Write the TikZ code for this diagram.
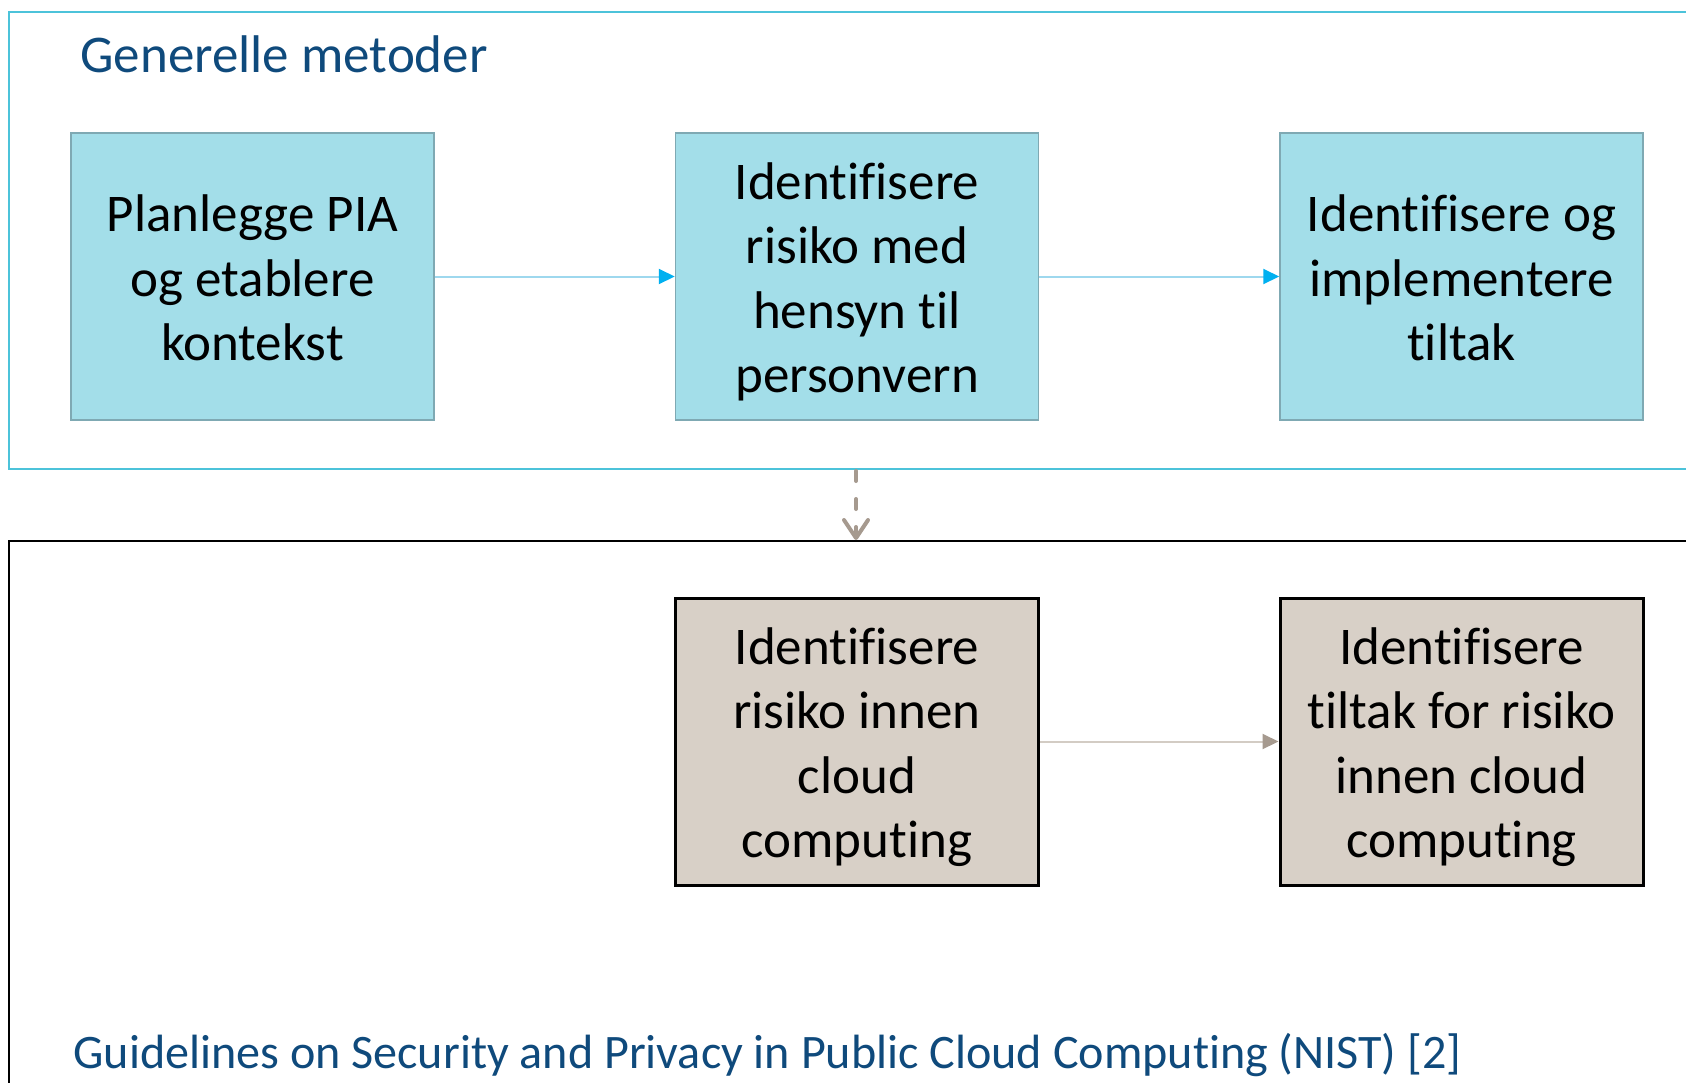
\documentclass[tikz,border=0pt]{standalone}
\usepackage{fontspec}
\setmainfont{Carlito}[Ligatures={NoCommon,NoContextual}]
\usetikzlibrary{arrows.meta}
\definecolor{boxblue}{HTML}{A3DEE9}
\definecolor{boxblueedge}{HTML}{7FA9B3}
\definecolor{framecyan}{HTML}{4CC3DA}
\definecolor{linkblue}{HTML}{9ED8EE}
\definecolor{tipblue}{HTML}{00B0F0}
\definecolor{boxtan}{HTML}{D8D0C7}
\definecolor{linktan}{HTML}{D3CCC4}
\definecolor{tiptan}{HTML}{A69A8F}
\definecolor{titleblue}{HTML}{0F4A7C}
\newcommand{\topstr}{\rule{0pt}{26pt}}
\newcommand{\botstr}{\rule[-6.5pt]{0pt}{6.5pt}}
\tikzset{
  stepbase/.style={minimum width=181.5pt, minimum height=143.5pt, inner sep=0pt, align=center,
    font=\fontsize{26.5}{32.2}\selectfont},
  bluestep/.style={stepbase, fill=boxblue, draw=boxblueedge, line width=0.75pt},
  tanstep/.style={stepbase, fill=boxtan, draw=black, line width=1.5pt},
  bluelink/.style={draw=linkblue, line width=1pt, -{Triangle[length=8pt,width=7.5pt,color=tipblue]}},
  tanlink/.style={draw=linktan, line width=1pt, -{Triangle[length=8pt,width=7.5pt,color=tiptan]}},
  dashlink/.style={draw=tiptan, line width=2pt, line cap=round, dash pattern=on 5pt off 9pt,
    -{Straight Barb[length=9pt,width=12pt,line cap=round,line join=round]}},
  heading/.style={anchor=base west, text=titleblue, inner sep=0pt}
}
\begin{document}
\begin{tikzpicture}[x=0.5pt,y=-0.5pt]
\useasboundingbox (0,0) rectangle (1686,1082);
\fill[white] (0,0) rectangle (1686,1082);
% frames
\draw[framecyan, line width=1pt] (1690,12) -- (9,12) -- (9,469) -- (1690,469);
\draw[black, line width=1pt] (1690,541) -- (9,541) -- (9,1090);
% titles
\node[heading, font=\fontsize{26.5}{32}\selectfont] (t1) at (80,72) {Generelle metoder};
\node[heading, font=\fontsize{24.05}{29}\selectfont] (t2) at (73,1068) {Guidelines on Security and Privacy in Public Cloud Computing (NIST) [2]};
% boxes
\node[bluestep] (b1) at (252.5,276.5) {\topstr Planlegge PIA\\og etablere\\kontekst\botstr};
\node[bluestep] (b2) at (857,276.5) {\topstr Identifisere\\risiko med\\hensyn til\\personvern\botstr};
\node[bluestep] (b3) at (1461.5,276.5) {\topstr Identifisere og\\implementere\\tiltak\botstr};
\node[tanstep] (c1) at (857,741.5) {\topstr Identifisere\\risiko innen\\cloud\\computing\botstr};
\node[tanstep] (c2) at (1461.5,741.5) {\topstr Identifisere\\tiltak for risiko\\innen cloud\\computing\botstr};
% connectors
\draw[bluelink] (b1.east) -- (b2.west);
\draw[bluelink] (b2.east) -- (b3.west);
\draw[tanlink] (c1.east) -- (c2.west);
\coordinate (dtop) at (856,471);
\coordinate (dbot) at (856,540);
\draw[dashlink] (dtop) -- (dbot);
\end{tikzpicture}
\end{document}
